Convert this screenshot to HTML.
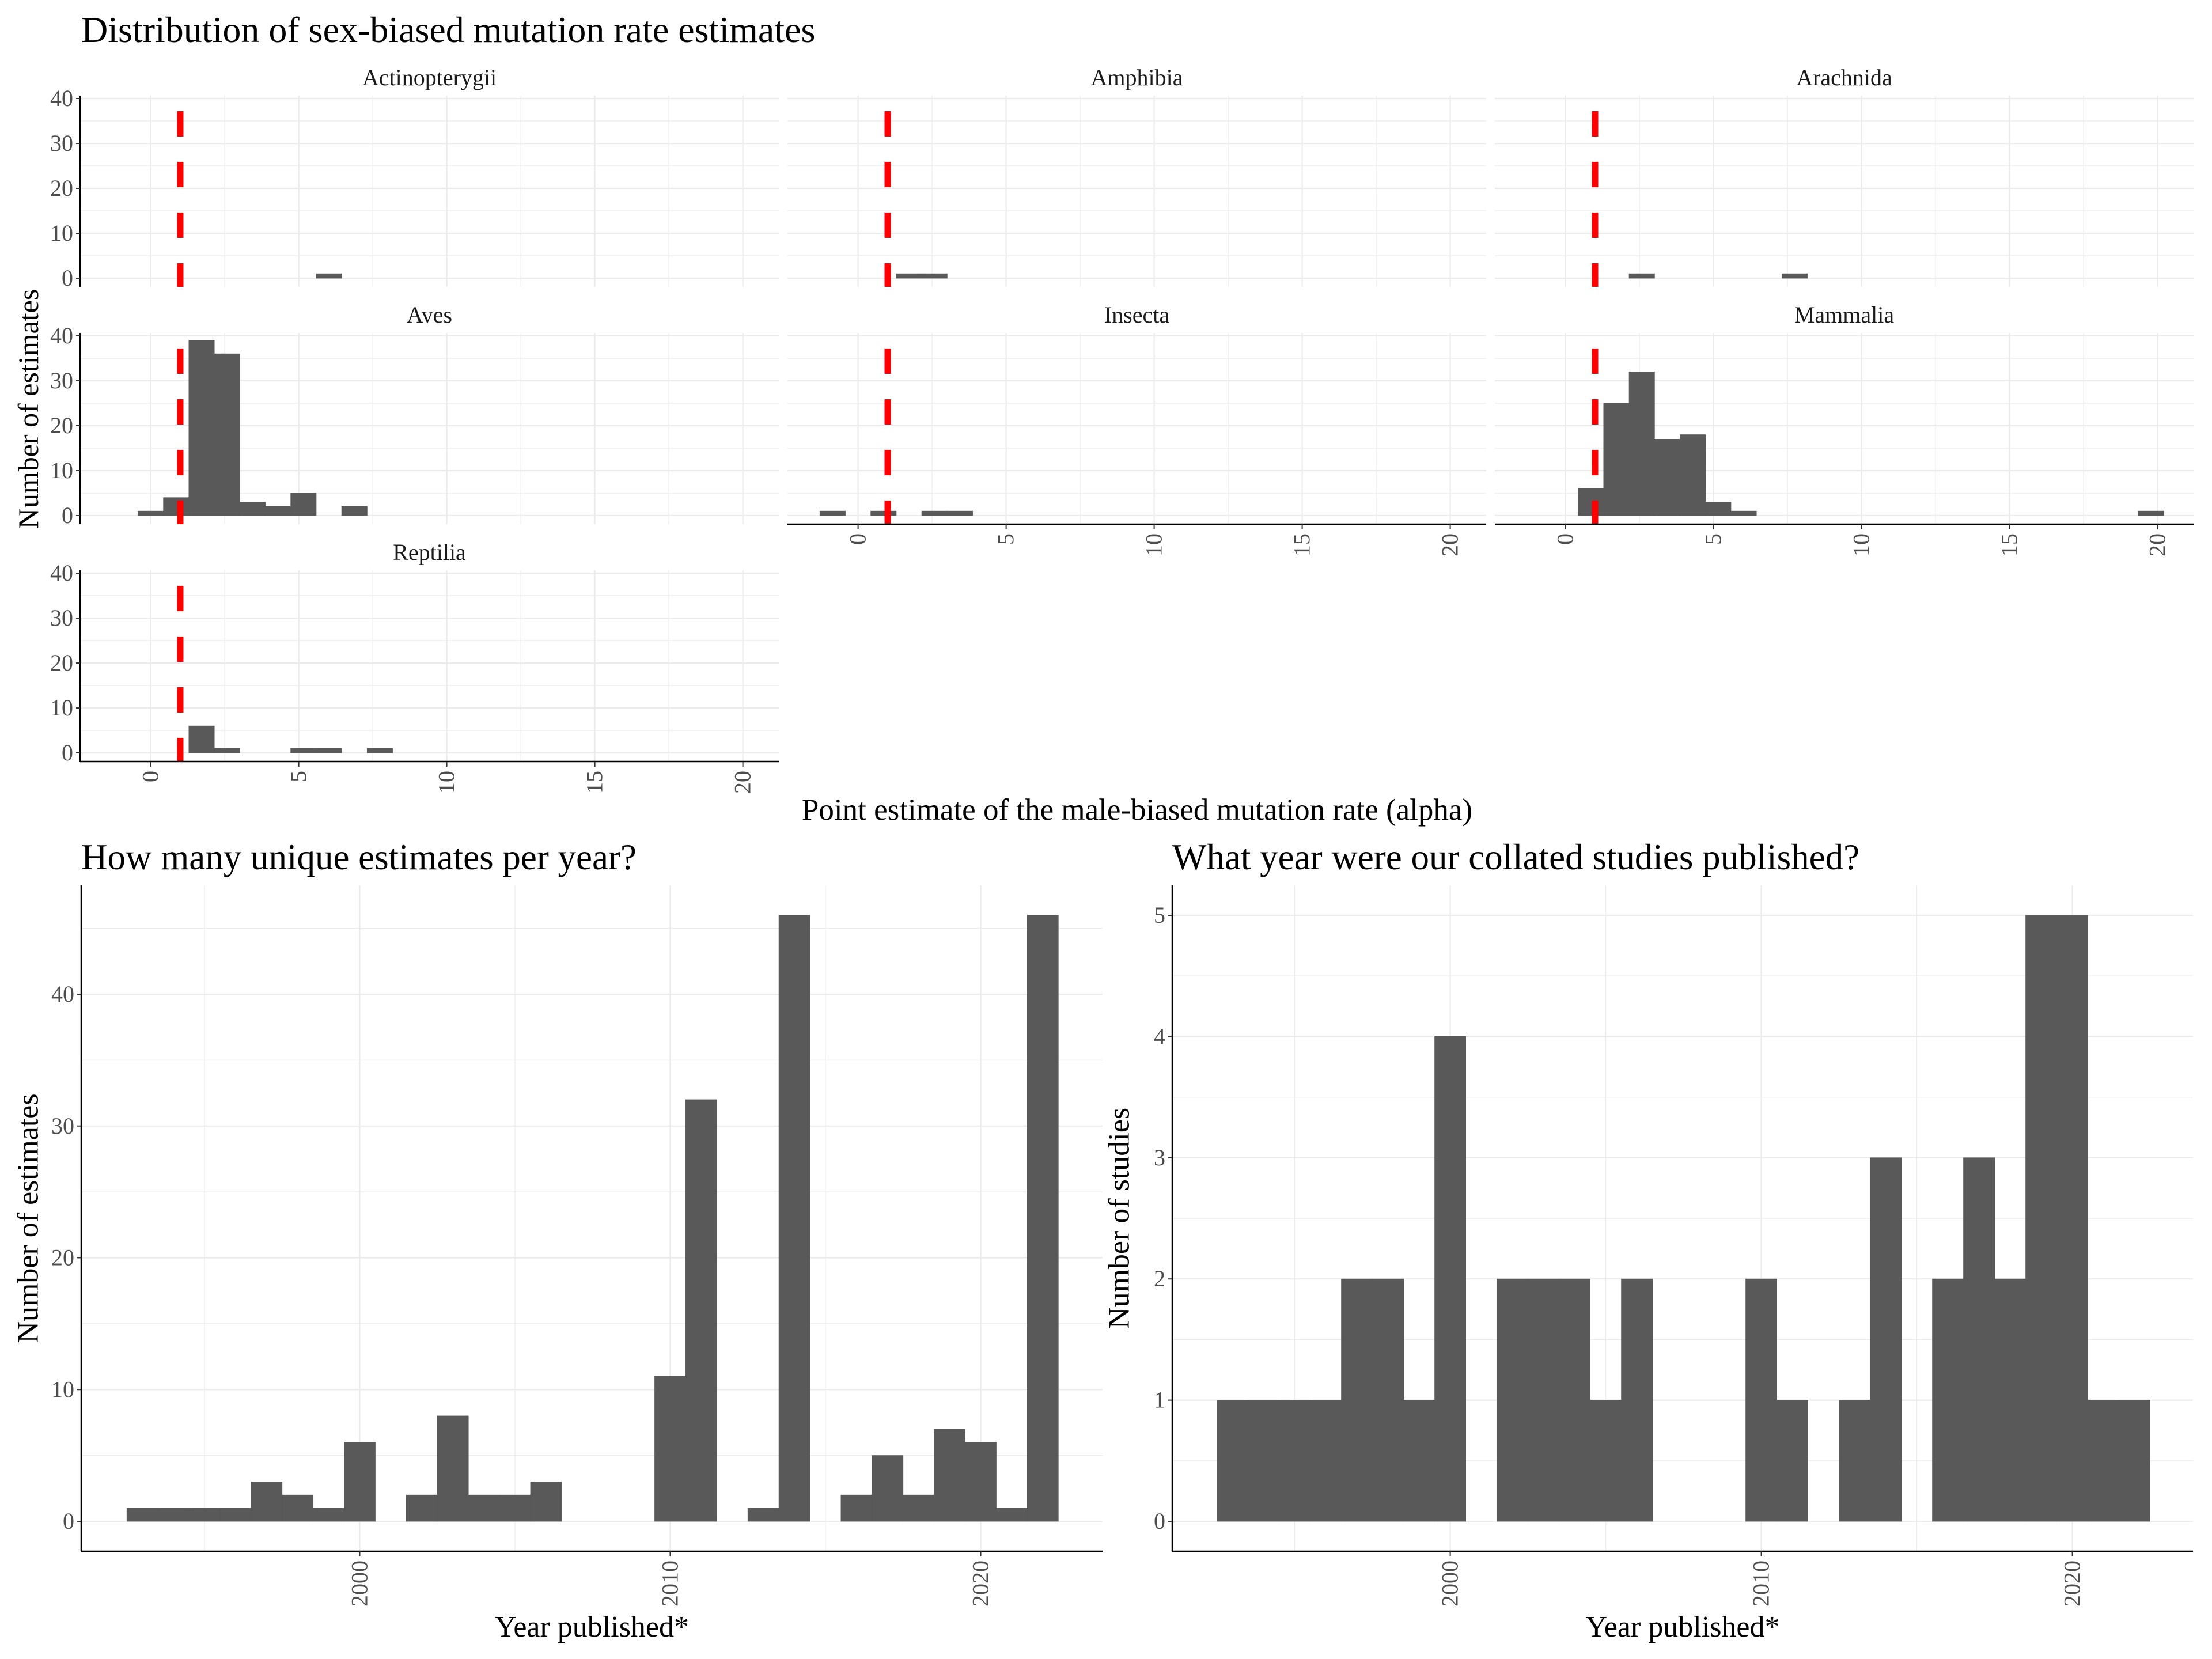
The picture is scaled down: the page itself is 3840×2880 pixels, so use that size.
<!DOCTYPE html>
<html><head><meta charset="utf-8"><style>
html,body{margin:0;padding:0;background:#fff;}
svg{display:block;font-family:"Liberation Serif",serif;}
</style></head><body>
<svg id="fig" width="3840" height="2880" viewBox="0 0 3840 2880" xmlns="http://www.w3.org/2000/svg"></svg>
<script>
// ---------- data: faceted histograms ----------
const facetNames = ["Actinopterygii","Amphibia","Arachnida","Aves","Insecta","Mammalia","Reptilia"];
const BIN_ORIGIN = -1.29, BIN_WIDTH = 0.86; // histogram bins (index 0 starts at origin)
const countsActinopterygii = [0,0,0,0,0,0,0,0,1,0,0,0,0,0,0,0,0,0,0,0,0,0,0,0,0];
const countsAmphibia       = [0,0,0,1,1,0,0,0,0,0,0,0,0,0,0,0,0,0,0,0,0,0,0,0,0];
const countsArachnida      = [0,0,0,0,1,0,0,0,0,0,1,0,0,0,0,0,0,0,0,0,0,0,0,0,0];
const countsAves           = [0,1,4,39,36,3,2,5,0,2,0,0,0,0,0,0,0,0,0,0,0,0,0,0,0];
const countsInsecta        = [1,0,1,0,1,1,0,0,0,0,0,0,0,0,0,0,0,0,0,0,0,0,0,0,0];
const countsMammalia       = [0,0,6,25,32,17,18,3,1,0,0,0,0,0,0,0,0,0,0,0,0,0,0,0,1];
const countsReptilia       = [0,0,0,6,1,0,0,1,1,0,1,0,0,0,0,0,0,0,0,0,0,0,0,0,0];
const facetCounts = [countsActinopterygii,countsAmphibia,countsArachnida,countsAves,countsInsecta,countsMammalia,countsReptilia];
const vlineValue = 1;
const facetYTicks = [0,10,20,30,40];
const facetXTicks = [0,5,10,15,20];

// ---------- data: estimates per year ----------
const years = [1993,1994,1995,1996,1997,1998,1999,2000,2001,2002,2003,2004,2005,2006,2007,2008,2009,2010,2011,2012,2013,2014,2015,2016,2017,2018,2019,2020,2021,2022];
const estimatesPerYear = [1,1,1,1,3,2,1,6,0,2,8,2,2,3,0,0,0,11,32,0,1,46,0,2,5,2,7,6,1,46];
const studiesPerYear   = [1,1,1,1,2,2,1,4,0,2,2,2,1,2,0,0,0,2,1,0,1,3,0,2,3,2,5,5,1,1];
const estYTicks = [0,10,20,30,40];
const studYTicks = [0,1,2,3,4,5];
const yearTicks = [2000,2010,2020];

const svg = document.getElementById('fig');
const NS = 'http://www.w3.org/2000/svg';
function mk(tag, attrs, parent){const e=document.createElementNS(NS,tag);for(const k in attrs)e.setAttribute(k,attrs[k]);(parent||svg).appendChild(e);return e;}

// ---------- titles ----------
let t = mk('text',{x:141,y:73,'font-size':64,fill:'#000'});
t.textContent='Distribution of sex-biased mutation rate estimates';


t = mk('text',{x:49,y:710,'font-size':50,fill:'#000','text-anchor':'middle',transform:'rotate(-90 49 710)','dominant-baseline':'central'});
t.textContent='Number of estimates';


t = mk('text',{x:1974,y:1423,'font-size':53,fill:'#000','text-anchor':'middle'});
t.textContent='Point estimate of the male-biased mutation rate (alpha)';



// ---------- facets ----------
const colLeft=[139,1367,2595], PW=1213, X0OFF=122.6, XPU=51.4;
const rowBottom=[498,910,1322], Y0OFF=15, YPU=7.8, PH=332;
const facetPos=[[0,0],[1,0],[2,0],[0,1],[1,1],[2,1],[0,2]];
const hasXAxis=[false,false,false,false,true,true,true];
facetNames.forEach((name,fi)=>{
  const [c,r]=facetPos[fi];
  const L=colLeft[c], B=rowBottom[r], T=B-PH, R=L+PW;
  const xs=v=>L+X0OFF+v*XPU;
  const ys=v=>B-Y0OFF-v*YPU;
  const g=mk('g',{});
  
  
  for(let v=-2.5;v<=22.5;v+=5){const x=xs(v);if(x>L&&x<R)mk('line',{x1:x,x2:x,y1:T,y2:B,stroke:'#ebebeb','stroke-width':1.2},g);}
  for(let v=5;v<=45;v+=10){const y=ys(v);if(y>T)mk('line',{x1:L,x2:R,y1:y,y2:y,stroke:'#ebebeb','stroke-width':1.2},g);}
  facetXTicks.forEach(v=>mk('line',{x1:xs(v),x2:xs(v),y1:T,y2:B,stroke:'#ebebeb','stroke-width':2.2},g));
  facetYTicks.forEach(v=>mk('line',{x1:L,x2:R,y1:ys(v),y2:ys(v),stroke:'#ebebeb','stroke-width':2.2},g));
  facetCounts[fi].forEach((cnt,i)=>{
    if(!cnt)return;
    const x1=xs(BIN_ORIGIN+i*BIN_WIDTH), x2=xs(BIN_ORIGIN+(i+1)*BIN_WIDTH);
    const b=mk('rect',{x:x1,y:ys(cnt),width:x2-x1,height:ys(0)-ys(cnt),fill:'#595959',stroke:'#595959','stroke-width':0.8},g);
    
    
  });
  const vl=mk('line',{x1:xs(vlineValue),x2:xs(vlineValue),y1:T,y2:B,stroke:'#ff0000','stroke-width':11,'stroke-dasharray':'44 44','stroke-dashoffset':61},g);
  
  
  const st=mk('text',{x:(L+R)/2,y:T-18,'font-size':40,fill:'#1a1a1a','text-anchor':'middle'},g);
  st.textContent=name;
  
  
  if(c===0){
    mk('line',{x1:L,x2:L,y1:T,y2:B,stroke:'#000','stroke-width':2.5},g);
    facetYTicks.forEach(v=>{
      mk('line',{x1:L-7,x2:L,y1:ys(v),y2:ys(v),stroke:'#333','stroke-width':2},g);
      const tl=mk('text',{x:L-12,y:ys(v)+13,'font-size':40,fill:'#4d4d4d','text-anchor':'end'},g);
      tl.textContent=v;
      
      
    });
  }
  if(hasXAxis[fi]){
    mk('line',{x1:L,x2:R,y1:B,y2:B,stroke:'#000','stroke-width':2.5},g);
    facetXTicks.forEach(v=>{
      mk('line',{x1:xs(v),x2:xs(v),y1:B,y2:B+9,stroke:'#333','stroke-width':2},g);
      const tl=mk('text',{x:xs(v)+13,y:B+16,'font-size':40,fill:'#4d4d4d','text-anchor':'end',transform:`rotate(-90 ${xs(v)+13} ${B+16})`},g);
      tl.textContent=v;
      
      
    });
  }
});

// ---------- year charts ----------
function yearChart(cfg){
  const {L,R,T,B,y0,yTop,vTop,yearRef,xRef,ppy,values,yTicks,minorStep,title,ylab,name}=cfg;
  const xs=v=>xRef+(v-yearRef)*ppy;
  const ys=v=>y0-(v/vTop)*(y0-yTop);
  const g=mk('g',{});
  
  
  for(let v=1995;v<=2025;v+=10){const x=xs(v);if(x>L&&x<R)mk('line',{x1:x,x2:x,y1:T,y2:B,stroke:'#ebebeb','stroke-width':1.2},g);}
  for(let v=minorStep;;v+=minorStep*2){const y=ys(v);if(y<T)break;mk('line',{x1:L,x2:R,y1:y,y2:y,stroke:'#ebebeb','stroke-width':1.2},g);}
  yearTicks.forEach(v=>mk('line',{x1:xs(v),x2:xs(v),y1:T,y2:B,stroke:'#ebebeb','stroke-width':2.2},g));
  yTicks.forEach(v=>mk('line',{x1:L,x2:R,y1:ys(v),y2:ys(v),stroke:'#ebebeb','stroke-width':2.2},g));
  years.forEach((yr,i)=>{
    const cnt=values[i]; if(!cnt)return;
    const b=mk('rect',{x:xs(yr-0.5),y:ys(cnt),width:xs(yr+0.5)-xs(yr-0.5),height:ys(0)-ys(cnt),fill:'#595959',stroke:'#595959','stroke-width':0.8},g);
    
    
  });
  mk('line',{x1:L,x2:L,y1:T,y2:B,stroke:'#000','stroke-width':2.5},g);
  mk('line',{x1:L,x2:R,y1:B,y2:B,stroke:'#000','stroke-width':2.5},g);
  yTicks.forEach(v=>{
    mk('line',{x1:L-7,x2:L,y1:ys(v),y2:ys(v),stroke:'#333','stroke-width':2},g);
    const tl=mk('text',{x:L-12,y:ys(v)+13,'font-size':40,fill:'#4d4d4d','text-anchor':'end'},g);
    tl.textContent=v;
    
    
  });
  yearTicks.forEach(v=>{
    mk('line',{x1:xs(v),x2:xs(v),y1:B,y2:B+9,stroke:'#333','stroke-width':2},g);
    const tl=mk('text',{x:xs(v)+13,y:B+16,'font-size':40,fill:'#4d4d4d','text-anchor':'end',transform:`rotate(-90 ${xs(v)+13} ${B+16})`},g);
    tl.textContent=v;
    
    
  });
  const tt=mk('text',{x:L,y:1509,'font-size':63,fill:'#000'},g);
  tt.textContent=title;
  
  
  const yl=mk('text',{x:L-92,y:(T+B)/2,'font-size':52,fill:'#000','text-anchor':'middle','dominant-baseline':'central',transform:`rotate(-90 ${L-92} ${(T+B)/2})`},g);
  yl.textContent=ylab;
  
  
  const xl=mk('text',{x:(L+R)/2,y:2841,'font-size':52,fill:'#000','text-anchor':'middle'},g);
  xl.textContent='Year published*';
  
  
}
yearChart({L:141,R:1914,T:1537,B:2693,y0:2641,yTop:1726,vTop:40,yearRef:2000,xRef:624.5,ppy:53.9,values:estimatesPerYear,yTicks:estYTicks,minorStep:5,title:'How many unique estimates per year?',ylab:'Number of estimates',name:'estimates-per-year-chart'});
yearChart({L:2035,R:3807,T:1537,B:2693,y0:2641,yTop:1589,vTop:5,yearRef:2000,xRef:2517.6,ppy:54,values:studiesPerYear,yTicks:studYTicks,minorStep:0.5,title:'What year were our collated studies published?',ylab:'Number of studies',name:'studies-per-year-chart'});
</script>
</body></html>
